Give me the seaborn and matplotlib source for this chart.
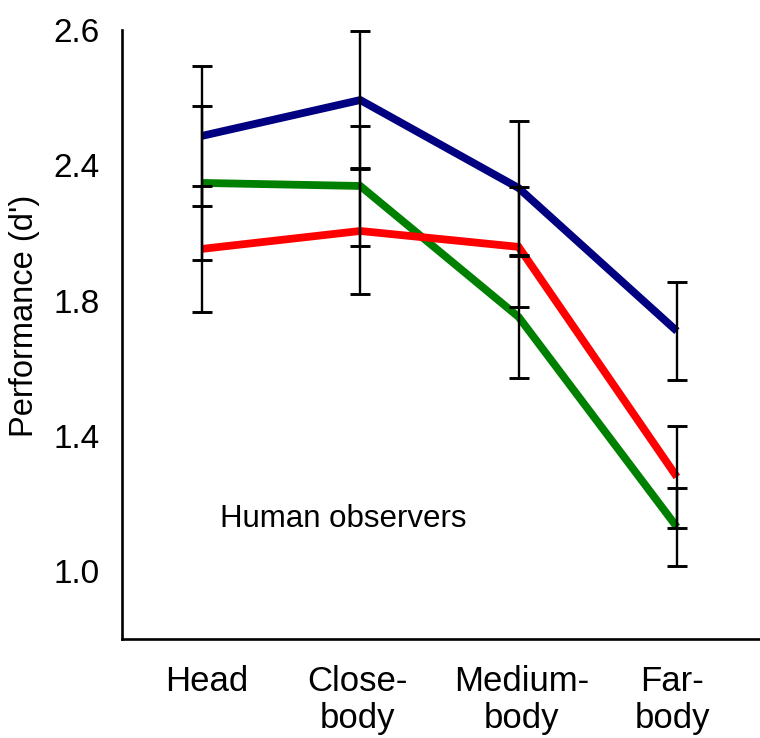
import matplotlib
matplotlib.use('Agg')
import matplotlib.pyplot as plt
import numpy as np
import pandas as pd
import seaborn as sns

# ---- data ----
conditions = ['Head', 'Close-\nbody', 'Medium-\nbody', 'Far-\nbody']
series_names = ['blue', 'green', 'red']
blue_vals = [2.287, 2.393, 2.133, 1.710]
green_vals = [2.148, 2.139, 1.752, 1.131]
red_vals = [1.953, 2.006, 1.959, 1.279]
blue_err = [0.207, 0.204, 0.198, 0.145]
green_err = [0.228, 0.177, 0.180, 0.115]
red_err = [0.186, 0.186, 0.177, 0.151]
ytick_vals = [1.0, 1.4, 1.8, 2.2, 2.6]
ytick_labels = ['1.0', '1.4', '1.8', '2.4', '2.6']
annotation = 'Human observers'
ylabel = "Performance (d')"

sns.set_style('white')
plt.rcParams['font.family'] = ['Liberation Sans', 'DejaVu Sans']
plt.rcParams['text.color'] = 'black'
plt.rcParams['xtick.color'] = 'black'
plt.rcParams['ytick.color'] = 'black'
plt.rcParams['axes.labelcolor'] = 'black'

xpos = np.arange(len(conditions))
rows = []
for name, vals, errs in [('blue', blue_vals, blue_err), ('green', green_vals, green_err), ('red', red_vals, red_err)]:
    for i, (v, e) in enumerate(zip(vals, errs)):
        rows.append({'series': name, 'x': xpos[i], 'value': v, 'err': e})
df = pd.DataFrame(rows)

palette = {'blue': '#000080', 'green': '#008000', 'red': '#ff0000'}

fig = plt.figure(figsize=(7.6, 7.38), dpi=100)
ax = fig.add_axes([122/760, (738-639)/738, 1 - 122/760, (639-30)/738])

for name in ['blue', 'green', 'red']:
    sub = df[df.series == name]
    sns.lineplot(data=sub, x='x', y='value', color=palette[name], linewidth=5.6,
                 ax=ax, legend=False, errorbar=None, clip_on=False,
                 solid_joinstyle='miter', solid_capstyle='butt')

for name in ['blue', 'green', 'red']:
    sub = df[df.series == name]
    ax.errorbar(sub['x'], sub['value'], yerr=sub['err'], fmt='none', ecolor='black',
                elinewidth=1.7, capsize=7.5, capthick=2.1, clip_on=False, zorder=5)

ax.set_xlim(-0.505, 3.525)
ax.set_ylim(0.8, 2.6)

# x axis: labels at label centers, tick marks separately
label_centers = [0.03, 0.98, 2.02, 2.97]
mark_pos = [0.013, 0.973, 2.078, 3.007]
ax.set_xticks(label_centers)
ax.set_xticklabels(conditions, fontsize=25, linespacing=1.15)
ax.tick_params(axis='x', which='major', length=0, pad=19)
ax.set_xticks(mark_pos, minor=True)
ax.tick_params(axis='x', which='minor', direction='inout', length=12, width=1.7, color='black')

ax.set_yticks(ytick_vals)
ax.set_yticklabels(ytick_labels, fontsize=24)
ax.set_yticks([1.2, 1.6, 2.0, 2.4], minor=True)
ax.tick_params(axis='y', which='both', direction='out', length=6, width=1.7, color='black', pad=10)

for s in ['top', 'right']:
    ax.spines[s].set_visible(False)
for s in ['left', 'bottom']:
    ax.spines[s].set_linewidth(1.9)
    ax.spines[s].set_color('black')

ax.set_xlabel('')
ax.set_ylabel(ylabel, fontsize=23.5)
ax.yaxis.set_label_coords(-0.128, 0.53)

ax.text(0.114, 1.155, annotation, fontsize=22.5, ha='left', va='center')

fig.savefig('out.png', dpi=100)
